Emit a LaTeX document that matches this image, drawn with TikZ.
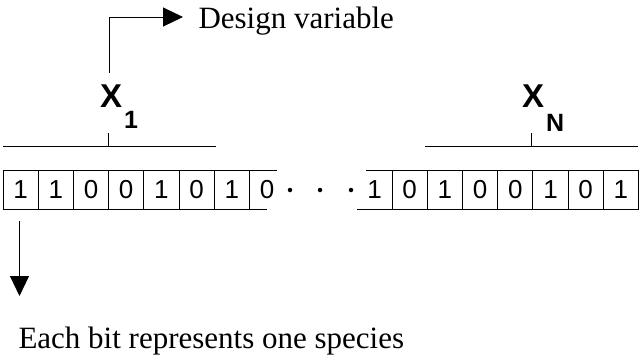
\documentclass[tikz,border=0pt]{standalone}
\usepackage{fontspec}
\setmainfont{Liberation Serif}
\setsansfont{Liberation Sans}
\usetikzlibrary{arrows.meta}

\tikzset{
  bit/.style={draw, minimum width=35.2pt, minimum height=39pt, inner sep=0pt,
    outer sep=0pt, font=\sffamily\fontsize{26}{26}\selectfont},
  openbit/.style={bit, draw=none},
  dot/.style={circle, fill, inner sep=0pt, minimum size=4.5pt},
  varname/.style={anchor=base west, inner sep=0pt,
    font=\sffamily\bfseries\fontsize{33}{33}\selectfont},
  caption/.style={anchor=base west, inner sep=0pt, font=\fontsize{31}{31}\selectfont},
  tip/.style={-{Triangle[length=20pt,width=19pt]}}
}

\begin{document}
\begin{tikzpicture}[x=1pt, y=-1pt, line width=1pt]
\useasboundingbox (0,0) rectangle (639,354);
% first variable
\foreach \b [count=\i] in {1,1,0,0,1,0,1}
  \node[bit] (l\i) at ({3+35.2*(\i-0.5)},189.5) {\b};
\node[openbit] (l8) at ({3+35.2*7.5},189.5) {0};
\draw (l8.north west) -- ++(28,0);
\draw (l8.south west) -- ++(18,0);
% last variable
\node[openbit] (r1) at ({638.5-35.2*7.5},189.5) {1};
\foreach \b [count=\i from 2] in {0,1,0,0,1,0,1}
  \node[bit] (r\i) at ({638.5-35.2*(8.5-\i)},189.5) {\b};
\draw (r1.north east) -- ++(-26,0);
\draw (r1.south east) -- ++(-35,0);
% gap
\node[dot] (d1) at (290,190) {};
\node[dot] (d2) at (320,190) {};
\node[dot] (d3) at (351,190) {};
% brackets
\draw (3,146) -- (216,146) (l3.south east |- 0,146) -- ++(0,-13);
\draw (425,146) -- (638,146) (531,146) -- ++(0,-13);
\node[varname] (x1) at (99.5,107) {X\hspace{2pt}\raisebox{-21pt}{\fontsize{25}{25}\selectfont 1}};
\node[varname] (xn) at (521.5,107) {X\hspace{2pt}\raisebox{-24pt}{\fontsize{25}{25}\selectfont N}};
% labels
\node[caption] (design) at (198,28) {Design variable};
\node[caption] (each) at (18,348) {Each bit represents one species};
\coordinate (up) at (109,73);
\draw[tip] (up) |- ([xshift=-15pt,yshift=11pt]design.base west);
\draw[tip] ([yshift=-12pt]l1.south -| 19.5,0) -- ++(0,75);
\end{tikzpicture}
\end{document}
